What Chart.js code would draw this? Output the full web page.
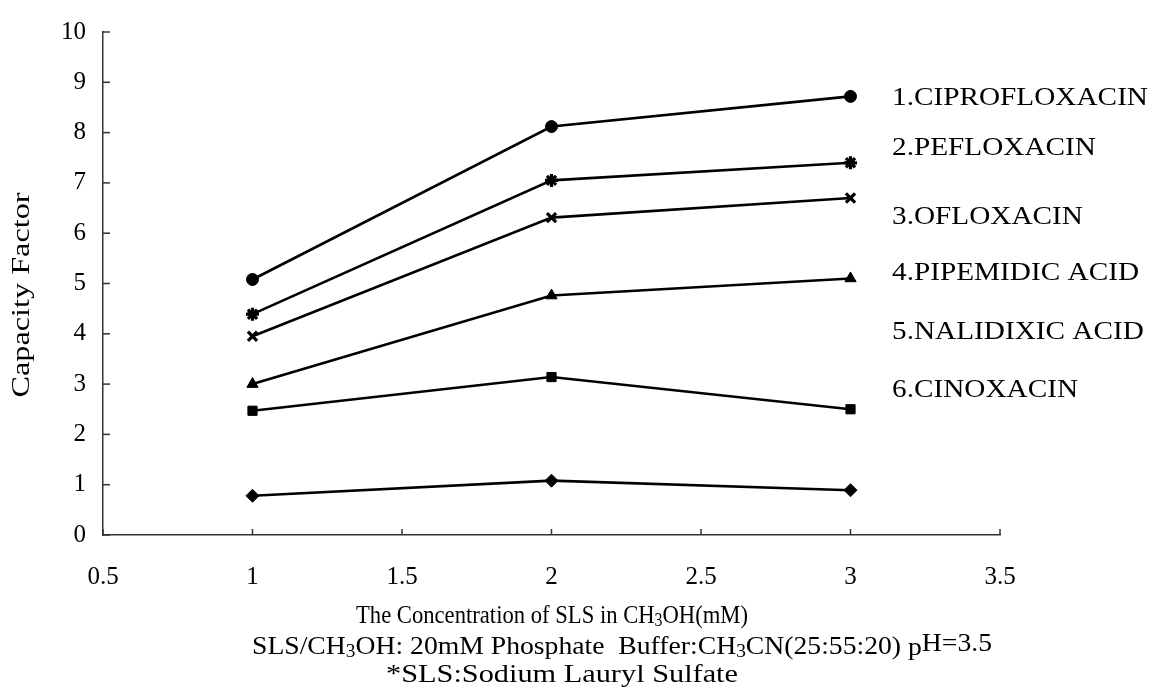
<!DOCTYPE html>
<html>
<head>
<meta charset="utf-8">
<script src="https://cdn.jsdelivr.net/npm/chart.js@4.4.0/dist/chart.umd.min.js"></script>
<style>
  html, body { margin: 0; padding: 0; background: #fff; }
</style>
</head>
<body>
<canvas id="myChart" width="1159" height="699"></canvas>
<script>
// data
const concentrations = [1, 2, 3];
const ciprofloxacin = [5.08, 8.12, 8.72];
const pefloxacin = [4.39, 7.05, 7.40];
const ofloxacin = [3.95, 6.31, 6.70];
const pipemidicAcid = [3.0, 4.76, 5.10];
const nalidixicAcid = [2.47, 3.14, 2.50];
const cinoxacin = [0.78, 1.08, 0.89];
const seriesLabels = ['1.CIPROFLOXACIN', '2.PEFLOXACIN', '3.OFLOXACIN', '4.PIPEMIDIC ACID', '5.NALIDIXIC ACID', '6.CINOXACIN'];
const yTicks = [0, 1, 2, 3, 4, 5, 6, 7, 8, 9, 10];
const xTicks = [0.5, 1, 1.5, 2, 2.5, 3, 3.5];

const FONT = '"Liberation Serif", "Times New Roman", serif';

const allSeries = [ciprofloxacin, pefloxacin, ofloxacin, pipemidicAcid, nalidixicAcid, cinoxacin];
const markers = ['circle', 'star', 'crossRot', 'triangle', 'rect', 'rectRot'];

const datasets = allSeries.map((vals, i) => ({
  label: seriesLabels[i],
  data: vals.map((v, j) => ({ x: concentrations[j], y: v })),
  borderColor: '#000',
  backgroundColor: '#000',
  borderWidth: 2.6,
  pointStyle: markers[i],
  pointRadius: markers[i] === 'circle' ? 6 : 6.5,
  pointBackgroundColor: '#000',
  pointBorderColor: '#000',
  pointBorderWidth: (markers[i] === 'star' || markers[i] === 'crossRot') ? 3.2 : 1,
  tension: 0,
}));

// one line of text made of pieces (sub/superscripts), stretched to a width, centred on cx
function richText(ctx, parts, cx, cy, size, targetW) {
  let w = 0;
  parts.forEach(p => {
    ctx.font = (p.small ? size * 0.7 : size) + 'px ' + FONT;
    p.w = ctx.measureText(p.t).width;
    w += p.w;
  });
  const sx = targetW ? targetW / w : 1;
  ctx.save();
  ctx.translate(cx - (w * sx) / 2, cy);
  ctx.scale(sx, 1);
  let xx = 0;
  parts.forEach(p => {
    ctx.font = (p.small ? size * 0.7 : size) + 'px ' + FONT;
    ctx.fillText(p.t, xx, p.dy || 0);
    xx += p.w;
  });
  ctx.restore();
}

const extras = {
  id: 'extras',
  afterDraw(chart) {
    const { ctx, scales: { x, y } } = chart;
    ctx.save();
    // inward tick marks
    ctx.strokeStyle = '#333';
    ctx.lineWidth = 1.5;
    xTicks.forEach(v => {
      const px = x.getPixelForValue(v);
      ctx.beginPath(); ctx.moveTo(px, y.bottom); ctx.lineTo(px, y.bottom - 6); ctx.stroke();
    });
    yTicks.forEach(v => {
      const py = y.getPixelForValue(v);
      ctx.beginPath(); ctx.moveTo(x.left, py); ctx.lineTo(x.left + 7, py); ctx.stroke();
    });

    ctx.fillStyle = '#000';
    ctx.textBaseline = 'middle';
    ctx.textAlign = 'left';

    // labels on the right, slightly wide like the scan
    ctx.font = '26px ' + FONT;
    const sx = 256 / ctx.measureText(seriesLabels[0]).width;
    const labelY = [98, 148, 217, 273, 332, 390];
    seriesLabels.forEach((t, i) => {
      ctx.save();
      ctx.translate(892, labelY[i]);
      ctx.scale(sx, 1);
      ctx.fillText(t, 0, 0);
      ctx.restore();
    });

    // y axis title
    ctx.save();
    ctx.translate(22, 295);
    ctx.rotate(-Math.PI / 2);
    richText(ctx, [{ t: 'Capacity Factor' }], 0, 0, 26, 205);
    ctx.restore();

    // captions under the axis
    richText(ctx, [{ t: 'The Concentration of SLS in CH' }, { t: '3', small: true, dy: 5 }, { t: 'OH(mM)' }], 552, 616, 26, 392);
    richText(ctx, [{ t: 'SLS/CH' }, { t: '3', small: true, dy: 5 }, { t: 'OH: 20mM Phosphate  Buffer:CH' }, { t: '3', small: true, dy: 5 },
      { t: 'CN(25:55:20) ' }, { t: 'p', dy: 1 }, { t: 'H=3.5', dy: -3 }], 622, 647, 26, 740);
    richText(ctx, [{ t: '*SLS:Sodium Lauryl Sulfate' }], 562, 675, 26, 352);
    ctx.restore();
  }
};

new Chart(document.getElementById('myChart').getContext('2d'), {
  type: 'line',
  data: { datasets: datasets },
  options: {
    responsive: false,
    animation: false,
    events: [],
    layout: { padding: { top: 20, right: 159, left: 0, bottom: 0 } },
    plugins: { legend: { display: false }, tooltip: { enabled: false } },
    scales: {
      x: {
        type: 'linear',
        min: 0.5,
        max: 3.5,
        afterBuildTicks: s => { s.ticks = xTicks.map(v => ({ value: v })); },
        afterFit: s => { s.height = 164; },
        grid: { display: true, drawOnChartArea: false, drawTicks: false },
        border: { color: '#333', width: 1.5 },
        ticks: { color: '#000', padding: 27, font: { family: FONT, size: 25 }, maxRotation: 0, callback: v => String(v) },
      },
      y: {
        min: 0,
        max: 10,
        afterBuildTicks: s => { s.ticks = yTicks.map(v => ({ value: v })); },
        afterFit: s => { s.width = 103; },
        grid: { display: true, drawOnChartArea: false, drawTicks: false },
        border: { color: '#333', width: 1.5 },
        ticks: { color: '#000', padding: 17, font: { family: FONT, size: 25 }, callback: v => String(v) },
      },
    },
  },
  plugins: [extras],
});
</script>
</body>
</html>
